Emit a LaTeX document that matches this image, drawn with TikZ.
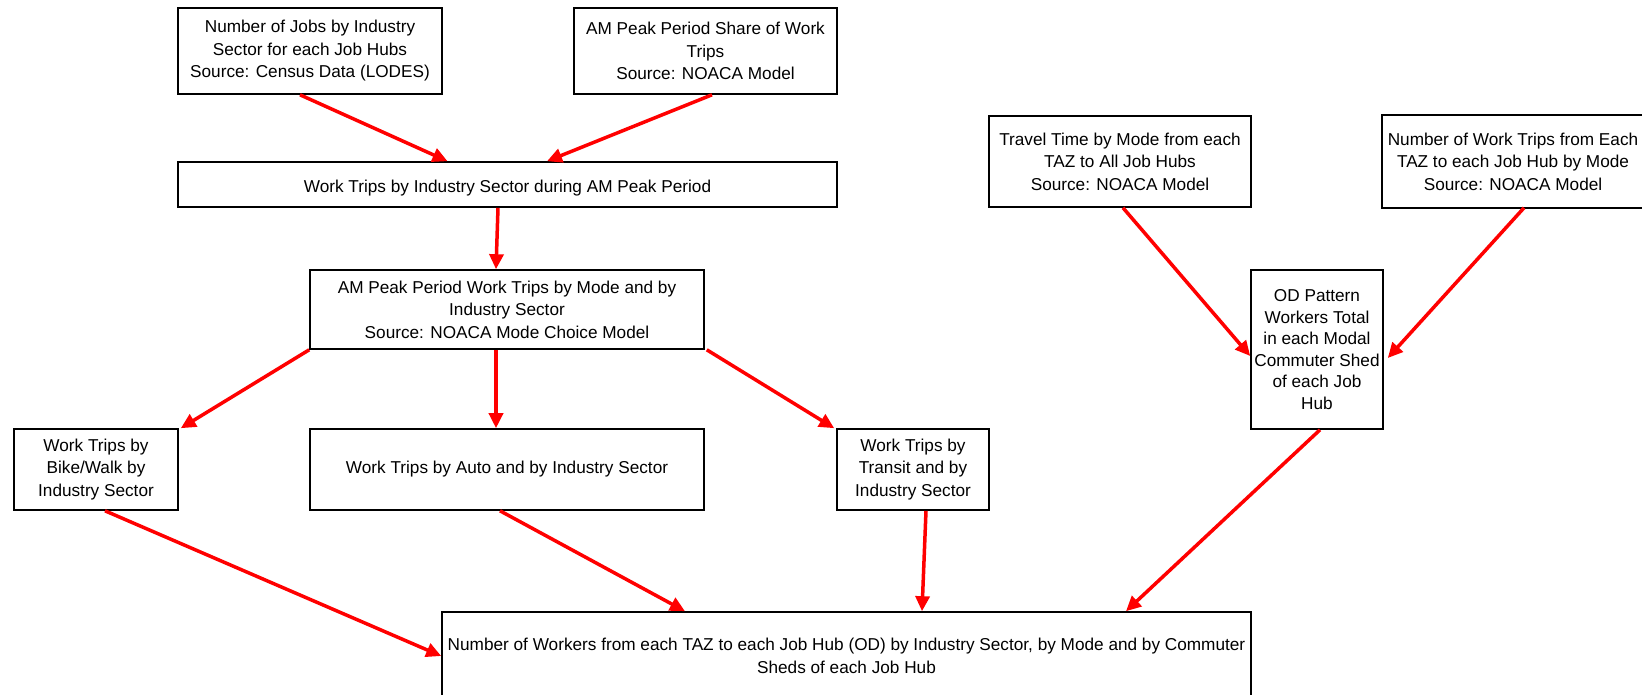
\documentclass[tikz,border=0pt]{standalone}
\usepackage{fontspec}
\setmainfont{Liberation Sans}
\usetikzlibrary{arrows.meta}
\tikzset{
  box/.style={draw=black, line width=1.6pt, fill=white, inner sep=0pt, align=center,
    font=\fontsize{17.2}{22.5}\selectfont},
  openbox/.style={box, draw=none},
  edge/.style={draw=black, line width=1.6pt},
  flow/.style={draw=red, line width=3.5pt, -{Triangle[length=15pt,width=14pt]}, shorten >=0pt}
}
\begin{document}
\begin{tikzpicture}[x=1pt,y=-1pt]
\useasboundingbox[fill=white] (0,0) rectangle (1642,694);
\node[box, minimum width=264pt, minimum height=86pt] (A) at (310,51)
  {Number of Jobs by Industry\\Sector for each Job Hubs\\Source: Census Data (LODES)};
\node[box, minimum width=263pt, minimum height=86pt] (B) at (705.5,51)
  {AM Peak Period Share of Work\\Trips\\Source: NOACA Model};
\node[box, minimum width=659pt, minimum height=45pt] (C) at (507.5,184.5)
  {\raisebox{-3.5pt}[\height][\depth]{Work Trips by Industry Sector during AM Peak Period}};
\node[box, minimum width=394pt, minimum height=79pt] (D) at (507,309.5)
  {AM Peak Period Work Trips by Mode and by\\Industry Sector\\Source: NOACA Mode Choice Model};
\node[box, minimum width=164pt, minimum height=81pt] (E) at (96,469.5)
  {Work Trips by\\Bike/Walk by\\Industry Sector};
\node[box, minimum width=394pt, minimum height=81pt] (F) at (507,469.5)
  {Work Trips by Auto and by Industry Sector};
\node[box, minimum width=152pt, minimum height=81pt] (G) at (913,469.5)
  {Work Trips by\\Transit and by\\Industry Sector};
\node[box, minimum width=809pt, minimum height=88pt] (H) at (846.5,656)
  {Number of Workers from each TAZ to each Job Hub (OD) by Industry Sector, by Mode and by Commuter\\Sheds of each Job Hub};
\node[box, minimum width=262pt, minimum height=91pt] (I) at (1120,161.5)
  {Travel Time by Mode from each\\TAZ to All Job Hubs\\Source: NOACA Model};
\node[openbox, minimum width=260pt, minimum height=91pt] (J) at (1513,161.5)
  {Number of Work Trips from Each\\TAZ to each Job Hub by Mode\\Source: NOACA Model};
\draw[edge] ([xshift=40pt]J.north east) -- (J.north west) -- (J.south west) -- ([xshift=40pt]J.south east);
\node[box, minimum width=132pt, minimum height=159pt, font=\fontsize{17.2}{21.6}\selectfont] (K) at (1317,349.5)
  {OD Pattern\\Workers Total\\in each Modal\\Commuter Shed\\of each Job\\Hub};

\draw[flow] ([xshift=-10pt]A.south) -- ([xshift=-60pt]C.north);
\draw[flow] ([xshift=6.5pt]B.south) -- ([xshift=39.5pt]C.north);
\draw[flow] ([xshift=-9.5pt]C.south) -- ([xshift=-11pt]D.north);
\draw[flow] (D.south west) -- ([xshift=2pt]E.north east);
\draw[flow] ([xshift=-11pt]D.south) -- ([xshift=-11pt]F.north);
\draw[flow] ([xshift=2pt]D.south east) -- ([xshift=-2pt]G.north west);
\draw[flow] ([xshift=9pt]E.south) -- (H.west);
\draw[flow] ([xshift=-7pt]F.south) -- ([xshift=-161.5pt]H.north);
\draw[flow] ([xshift=13pt]G.south) -- ([xshift=75.5pt]H.north);
\draw[flow] ([xshift=3pt]K.south) -- ([xshift=279.5pt]H.north);
\draw[flow] ([xshift=3pt]I.south) -- ([yshift=-6.5pt]K.west);
\draw[flow] ([xshift=11pt]J.south) -- ([xshift=4pt,yshift=-8.5pt]K.east);
\end{tikzpicture}
\end{document}
